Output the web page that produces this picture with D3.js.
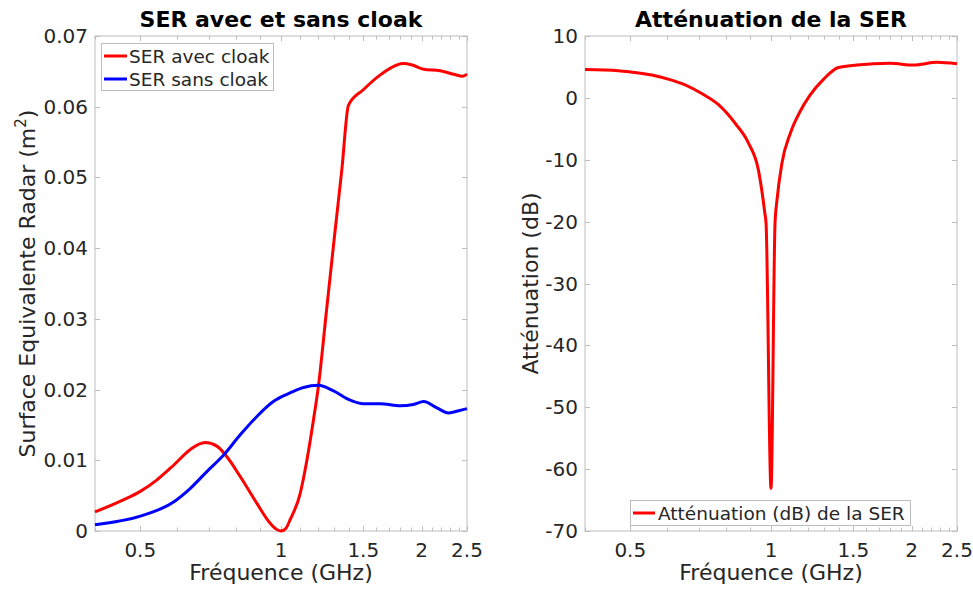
<!DOCTYPE html>
<html>
<head>
<meta charset="utf-8">
<script src="https://cdn.jsdelivr.net/npm/d3@7/dist/d3.min.js"></script>
<style>
  html, body { margin: 0; padding: 0; background: #fff; }
  svg { display: block; font-family: "DejaVu Sans", sans-serif; }
</style>
</head>
<body>
<svg id="chart" width="973" height="592"></svg>
<script>
// ---- Data ----
const freqAvec = [0.40, 0.46, 0.50, 0.542, 0.589, 0.639, 0.688, 0.729, 0.766, 0.818, 0.888, 0.948, 0.975, 1.00, 1.025, 1.046, 1.099, 1.136, 1.174, 1.203, 1.25, 1.30, 1.35, 1.394, 1.50, 1.631, 1.77, 1.82, 1.91, 2.02, 2.19, 2.34, 2.45, 2.50];
const serAvec  = [0.0027, 0.0044, 0.0056, 0.0072, 0.0093, 0.0115, 0.0125, 0.0120, 0.0105, 0.0077, 0.0039, 0.0011, 0.0003, 0.0000, 0.0004, 0.0016, 0.0053, 0.0100, 0.0158, 0.0206, 0.0309, 0.0414, 0.0512, 0.0602, 0.0624, 0.0645, 0.0659, 0.0661, 0.0659, 0.0653, 0.0651, 0.0646, 0.0643, 0.0646];

const freqSans = [0.40, 0.50, 0.589, 0.639, 0.694, 0.753, 0.818, 0.888, 0.963, 1.035, 1.117, 1.203, 1.295, 1.406, 1.50, 1.63, 1.80, 1.92, 2.02, 2.156, 2.284, 2.40, 2.50];
const serSans  = [0.0009, 0.0021, 0.0041, 0.0060, 0.0084, 0.0107, 0.0136, 0.0162, 0.0183, 0.0194, 0.0203, 0.0206, 0.0198, 0.0185, 0.0180, 0.0180, 0.0177, 0.0179, 0.0183, 0.0174, 0.0167, 0.0170, 0.0173];

const freqAtt = [0.40, 0.472, 0.50, 0.556, 0.605, 0.655, 0.711, 0.772, 0.838, 0.895, 0.94, 0.97, 0.976, 1.00, 1.02, 1.03, 1.055, 1.10, 1.154, 1.213, 1.295, 1.394, 1.527, 1.799, 2.018, 2.265, 2.50];
const attDb   = [4.6, 4.4, 4.2, 3.7, 3.0, 2.1, 0.7, -1.1, -4.1, -7.3, -11.7, -18.6, -20.3, -63.1, -20.3, -16.5, -10.6, -5.7, -2.2, 0.5, 3.0, 4.9, 5.3, 5.6, 5.3, 5.75, 5.5];

const xTickValues = [0.5, 1, 1.5, 2, 2.5];
const xTickLabels = ["0.5", "1", "1.5", "2", "2.5"];
const yTicksLeft  = [0, 0.01, 0.02, 0.03, 0.04, 0.05, 0.06, 0.07];
const yTickLabelsLeft = ["0", "0.01", "0.02", "0.03", "0.04", "0.05", "0.06", "0.07"];
const yTicksRight = [-70, -60, -50, -40, -30, -20, -10, 0, 10];

const titles = ["SER avec et sans cloak", "Atténuation de la SER"];
const xLabel = "Fréquence (GHz)";
const legendLeft = ["SER avec cloak", "SER sans cloak"];
const legendRight = ["Atténuation (dB) de la SER"];

// ---- Drawing ----
const svg = d3.select("#chart");
const plotTop = 36, plotBottom = 531;
const axisColor = "#bdbdbd";
const textColor = "#262626";
const minorTicks = d3.range(4, 26).map(v => v / 10).filter(v => !xTickValues.some(t => Math.abs(t - v) < 1e-9));

function panel(left, right, yDomain, yTicks, yTickLabels) {
  const x = d3.scaleLog().domain([0.4, 2.5]).range([left, right]);
  const y = d3.scaleLinear().domain(yDomain).range([plotBottom, plotTop]);
  const g = svg.append("g");

  g.append("rect").attr("x", left).attr("y", plotTop).attr("width", right - left).attr("height", plotBottom - plotTop)
    .attr("fill", "none").attr("stroke", axisColor).attr("stroke-width", 1);

  const tickG = g.append("g").attr("stroke", axisColor).attr("stroke-width", 1);
  xTickValues.concat(minorTicks).forEach(v => {
    const len = xTickValues.includes(v) ? 5 : 3.5;
    const px = Math.round(x(v)) + 0.5;
    tickG.append("line").attr("x1", px).attr("x2", px).attr("y1", plotBottom).attr("y2", plotBottom - len);
    tickG.append("line").attr("x1", px).attr("x2", px).attr("y1", plotTop).attr("y2", plotTop + len);
  });
  yTicks.forEach(v => {
    const py = Math.round(y(v)) + 0.5;
    tickG.append("line").attr("x1", left).attr("x2", left + 5).attr("y1", py).attr("y2", py);
    tickG.append("line").attr("x1", right).attr("x2", right - 5).attr("y1", py).attr("y2", py);
  });

  xTickValues.forEach((v, i) => {
    g.append("text").attr("x", x(v)).attr("y", plotBottom + 26)
      .attr("text-anchor", "middle").attr("font-size", 20).attr("fill", textColor).text(xTickLabels[i]);
  });
  yTicks.forEach((v, i) => {
    g.append("text").attr("x", left - 7).attr("y", y(v) + 7)
      .attr("text-anchor", "end").attr("font-size", 20).attr("fill", textColor).text(yTickLabels[i]);
  });
  g.append("text").attr("x", (left + right) / 2).attr("y", 580)
    .attr("text-anchor", "middle").attr("font-size", 22).attr("fill", textColor).text(xLabel);
  return { x, y, g };
}

function drawLine(p, xs, ys, color) {
  const data = xs.map((d, i) => [d, ys[i]]);
  p.g.append("path").datum(data)
    .attr("fill", "none").attr("stroke", color).attr("stroke-width", 3)
    .attr("stroke-linejoin", "round")
    .attr("d", d3.line().x(d => p.x(d[0])).y(d => p.y(d[1])).curve(d3.curveMonotoneX));
}

// Left panel
const P1 = panel(95, 467, [0, 0.07], yTicksLeft, yTickLabelsLeft);
drawLine(P1, freqAvec, serAvec, "#ff0000");
drawLine(P1, freqSans, serSans, "#0000ff");
svg.append("text").attr("x", 281).attr("y", 27).attr("text-anchor", "middle")
  .attr("font-size", 22).attr("font-weight", "bold").attr("fill", "#000").text(titles[0]);
const yl1 = svg.append("text").attr("transform", "translate(35,283.5) rotate(-90)")
  .attr("text-anchor", "middle").attr("font-size", 22).attr("fill", textColor);
yl1.append("tspan").text("Surface Equivalente Radar (m");
yl1.append("tspan").attr("font-size", 15).attr("dy", -9).text("2");
yl1.append("tspan").attr("dy", 9).text(")");

const lg1 = svg.append("g");
lg1.append("rect").attr("x", 101.5).attr("y", 43.5).attr("width", 172).attr("height", 47)
  .attr("fill", "#fff").attr("stroke", axisColor);
[["#ff0000", 56], ["#0000ff", 79]].forEach((c, i) => {
  lg1.append("line").attr("x1", 104).attr("x2", 127).attr("y1", c[1]).attr("y2", c[1])
    .attr("stroke", c[0]).attr("stroke-width", 3);
  lg1.append("text").attr("x", 129).attr("y", c[1] + 6.5).attr("font-size", 18.5).attr("fill", textColor).text(legendLeft[i]);
});

// Right panel
const P2 = panel(585, 957, [-70, 10], yTicksRight, yTicksRight.map(String));
drawLine(P2, freqAtt, attDb, "#ff0000");
svg.append("text").attr("x", 771).attr("y", 27).attr("text-anchor", "middle")
  .attr("font-size", 22).attr("font-weight", "bold").attr("fill", "#000").text(titles[1]);
svg.append("text").attr("transform", "translate(538,283.5) rotate(-90)")
  .attr("text-anchor", "middle").attr("font-size", 22).attr("fill", textColor).text("Atténuation (dB)");

const lg2 = svg.append("g");
lg2.append("rect").attr("x", 630.5).attr("y", 500.5).attr("width", 280).attr("height", 25)
  .attr("fill", "#fff").attr("stroke", axisColor);
lg2.append("line").attr("x1", 633).attr("x2", 655).attr("y1", 513).attr("y2", 513)
  .attr("stroke", "#ff0000").attr("stroke-width", 3);
lg2.append("text").attr("x", 658).attr("y", 519.5).attr("font-size", 18.5).attr("fill", textColor).text(legendRight[0]);
</script>
</body>
</html>
